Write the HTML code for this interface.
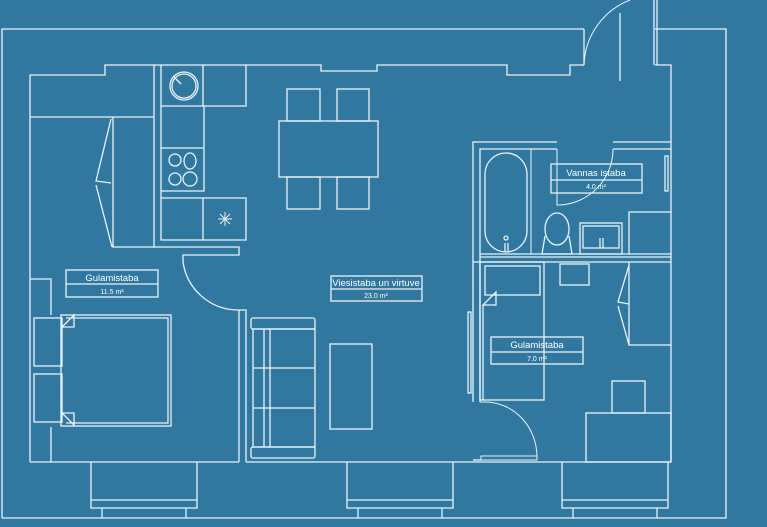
<!DOCTYPE html>
<html><head><meta charset="utf-8"><style>
html,body{margin:0;padding:0;background:#30789f;}
svg{display:block}
text{font-family:"Liberation Sans",sans-serif;fill:#fff}
</style></head><body>
<svg width="767" height="527" viewBox="0 0 767 527" xmlns="http://www.w3.org/2000/svg">
<rect width="767" height="527" fill="#30789f"/>
<g fill="none" stroke="#eaf3f8" stroke-width="1.3">
<path d="M2,518 V29 H584 M655,29 H726 V518 H2"/>
<path d="M30,462 V75 H105 V65 H321 V71 H377 V65 H507 V75 H570 V65 H584 M655,65 H671 V462"/>
<path d="M584,29 V65 M654,0 V65 M657,0 V65"/>
<path d="M584,65 A72,72 0 0 1 630,0" stroke-width="1"/>
<path d="M620,13 V81"/>
<path d="M30,117 H154 M113,117 V247 H154 M111,119 L96,181 L111,183 M96,185 L112,247"/>
<path d="M154,65 V247 H239 V255 H183 V262"/>
<path d="M161,65 V240 H246 V198 H161 M203,198 V240 M161,106 H246 V65 M203,65 V106 M161,148 H204 V106 M161,191 H204 V148"/>
<circle cx="184" cy="86" r="14"/><circle cx="184" cy="86" r="12"/>
<path d="M173,76 L181,84"/>
<ellipse cx="175" cy="160" rx="6" ry="6"/><ellipse cx="190" cy="161" rx="6" ry="8"/>
<ellipse cx="175" cy="179" rx="6" ry="6"/><ellipse cx="190" cy="179" rx="7" ry="7"/>
<path d="M218,219 H232 M225,212 V226 M220,214 L230,224 M230,214 L220,224" stroke-width="1"/>
<rect x="279" y="121" width="99" height="56"/>
<rect x="287" y="89" width="33" height="32"/><rect x="337" y="89" width="32" height="32"/>
<rect x="287" y="177" width="33" height="32"/><rect x="337" y="177" width="32" height="32"/>
<path d="M183,262 A56,56 0 0 0 236,310 H239 V462 M246,462 V310 H239"/>
<path d="M30,462 H239 M246,462 H671"/>
<path d="M30,279 H51 V315 M51,427 V462"/>
<rect x="34" y="318" width="28" height="48"/><rect x="34" y="374" width="28" height="48"/>
<rect x="61" y="315" width="110" height="111"/>
<path d="M74,315 L62,327 H74 Z M62,413 L74,425 V413 Z M66,318 H168 V423 H66"/>
<rect x="66" y="270" width="92" height="27"/><path d="M66,284 H158"/>
<rect x="251" y="318" width="64" height="11" rx="2"/><rect x="251" y="447" width="64" height="11" rx="2"/>
<rect x="253" y="329" width="62" height="118"/>
<path d="M264,329 V447 M270,329 V447 M253,368 H315 M253,408 H315"/>
<rect x="330" y="344" width="42" height="85"/>
<rect x="331" y="276" width="91" height="25"/><path d="M331,289 H422"/>
<path d="M91,462 V508 H197 V462 M91,500 H197 M102,508 V518 M186,508 V518"/>
<path d="M347,462 V508 H453 V462 M347,500 H453 M358,508 V518 M442,508 V518"/>
<path d="M562,462 V508 H668 V462 M562,500 H668 M573,508 V518 M657,508 V518"/>
<path d="M473,402 V142 H557 M613,142 H671 M480,402 V149 H557 M613,149 H671"/>
<path d="M531,149 V254 M557,149 V205 H560 A56,56 0 0 0 613,149" stroke-width="1"/>
<rect x="485" y="153" width="42" height="99" rx="21"/>
<circle cx="506" cy="238" r="2"/><path d="M505,243 V252 M508,243 V252"/>
<ellipse cx="557" cy="229" rx="12" ry="16"/>
<path d="M545,236 L542,254 H572 L569,236"/>
<rect x="580" y="223" width="42" height="31"/><rect x="583" y="226" width="36" height="22"/>
<path d="M600,238 V248 M603,238 V248"/>
<path d="M629,254 V212 H671"/>
<rect x="665" y="156" width="3" height="35"/>
<rect x="551" y="164" width="91" height="29"/><path d="M551,180 H642"/>
<path d="M480,254 H671 M473,262 H671 M480,257 H671"/>
<rect x="480" y="262" width="64" height="138"/>
<rect x="485" y="266" width="55" height="29"/>
<path d="M496,292 L483,305 H496 Z M483,305 V400"/>
<rect x="560" y="264" width="29" height="21"/>
<path d="M629,262 V345 H671 M629,265 L618,302 L629,304 M618,306 L629,345"/>
<rect x="586" y="413" width="85" height="49"/><rect x="612" y="381" width="33" height="32"/>
<rect x="468" y="312" width="3" height="81"/>
<path d="M480,402 H485 A52,55 0 0 1 537,457 V460 H481 V456 H537" stroke-width="1"/>
<path d="M473,460 H481"/>
<rect x="491" y="337" width="92" height="27"/><path d="M491,352 H583"/>
</g>
<g>
<text x="112" y="281" font-size="9.5" text-anchor="middle">Gulamistaba</text>
<text x="112" y="294" font-size="7" text-anchor="middle">11.5 m²</text>
<text x="376" y="286" font-size="9.5" text-anchor="middle">Viesistaba un virtuve</text>
<text x="376" y="298" font-size="7" text-anchor="middle">23.0 m²</text>
<text x="596" y="176" font-size="9.5" text-anchor="middle">Vannas istaba</text>
<text x="596" y="189" font-size="7" text-anchor="middle">4.0 m²</text>
<text x="537" y="348" font-size="9.5" text-anchor="middle">Gulamistaba</text>
<text x="537" y="361" font-size="7" text-anchor="middle">7.0 m²</text>
</g>
</svg>
</body></html>
